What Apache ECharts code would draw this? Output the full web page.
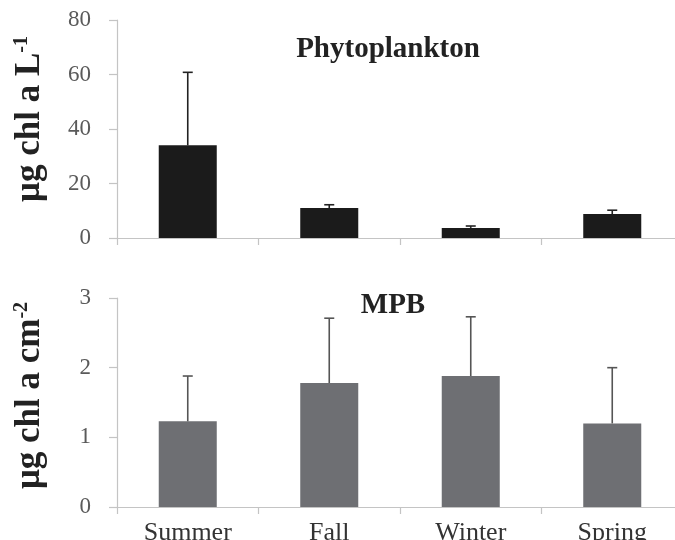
<!DOCTYPE html>
<html>
<head>
<meta charset="utf-8">
<script src="https://cdn.jsdelivr.net/npm/echarts@6/dist/echarts.min.js"></script>
<style>
  html, body { margin: 0; padding: 0; background: #fff; }
  #chart { width: 675px; height: 540px; }
</style>
</head>
<body>
<div id="chart"></div>
<script>
// Seasonal chlorophyll a: phytoplankton (water column) and MPB (sediment)
const seasons = ['Summer', 'Fall', 'Winter', 'Spring'];
const phytoMean = [34, 11, 3.7, 8.8];
const phytoSD = [26.8, 1.2, 0.7, 1.4];
const mpbMean = [1.23, 1.78, 1.88, 1.2];
const mpbSD = [0.65, 0.93, 0.85, 0.8];
const phytoTicks = [0, 20, 40, 60, 80];
const mpbTicks = [0, 1, 2, 3];

const SERIF = '"Liberation Serif", "Times New Roman", serif';

function errorBarItem(color) {
  return function (params, api) {
    const x = api.value(0);
    const m = api.value(1);
    const e = api.value(2);
    const p0 = api.coord([x, m]);
    const p1 = api.coord([x, m + e]);
    const cap = 5;
    const style = { stroke: color, lineWidth: 1.6 };
    return {
      type: 'group',
      children: [
        { type: 'line', shape: { x1: p0[0], y1: p0[1], x2: p1[0], y2: p1[1] }, style },
        { type: 'line', shape: { x1: p1[0] - cap, y1: p1[1], x2: p1[0] + cap, y2: p1[1] }, style }
      ]
    };
  };
}

function valueAxis(gridIndex, ticks, name, sup, shift) {
  return {
    type: 'value',
    gridIndex,
    min: ticks[0],
    max: ticks[ticks.length - 1],
    interval: ticks[1] - ticks[0],
    splitLine: { show: false },
    axisLine: { show: true, lineStyle: { color: '#c4c4c4', width: 1.2 } },
    axisTick: { show: true, length: 8, lineStyle: { color: '#c4c4c4', width: 1.2 } },
    axisLabel: { fontFamily: SERIF, fontSize: 23, color: '#5a5a5a', margin: 26 },
    name: '{m|' + name + '}{s|' + sup + '}',
    nameLocation: 'middle',
    nameGap: 70,
    nameTextStyle: {
      padding: [0, 0, 0, shift],
      rich: {
        m: { fontFamily: SERIF, fontSize: 35, fontWeight: 'bold', color: '#222' },
        s: { fontFamily: SERIF, fontSize: 20, fontWeight: 'bold', color: '#222', verticalAlign: 'top' }
      }
    }
  };
}

function catAxis(gridIndex, showLabels) {
  return {
    type: 'category',
    gridIndex,
    data: seasons,
    boundaryGap: true,
    axisLine: { show: true, lineStyle: { color: '#c4c4c4', width: 1.2 } },
    axisTick: { show: true, length: 7, lineStyle: { color: '#c4c4c4', width: 1.2 } },
    axisLabel: { show: showLabels, fontFamily: SERIF, fontSize: 26, color: '#333', margin: 13 }
  };
}

const chart = echarts.init(document.getElementById('chart'), null, { renderer: 'canvas' });
chart.setOption({
  backgroundColor: '#ffffff',
  animation: false,
  title: [
    { text: 'Phytoplankton', left: 383, top: 30, textAlign: 'center',
      textStyle: { fontFamily: SERIF, fontSize: 29, fontWeight: 'bold', color: '#222' } },
    { text: 'MPB', left: 388, top: 286, textAlign: 'center',
      textStyle: { fontFamily: SERIF, fontSize: 29, fontWeight: 'bold', color: '#222' } }
  ],
  grid: [
    { left: 117, right: -8, top: 20, height: 218, outerBoundsMode: 'none' },
    { left: 117, right: -8, top: 298, height: 209, outerBoundsMode: 'none' }
  ],
  xAxis: [catAxis(0, false), catAxis(1, true)],
  yAxis: [
    valueAxis(0, phytoTicks, 'μg chl a L', '-1', 20),
    valueAxis(1, mpbTicks, 'μg chl a cm', '-2', 14)
  ],
  series: [
    {
      type: 'bar', xAxisIndex: 0, yAxisIndex: 0,
      data: phytoMean, barWidth: '41%',
      itemStyle: { color: '#1b1b1b' }
    },
    {
      type: 'custom', xAxisIndex: 0, yAxisIndex: 0, z: 5,
      renderItem: errorBarItem('#222'),
      data: seasons.map((s, i) => [i, phytoMean[i], phytoSD[i]])
    },
    {
      type: 'bar', xAxisIndex: 1, yAxisIndex: 1,
      data: mpbMean, barWidth: '41%',
      itemStyle: { color: '#6e6f73' }
    },
    {
      type: 'custom', xAxisIndex: 1, yAxisIndex: 1, z: 5,
      renderItem: errorBarItem('#555'),
      data: seasons.map((s, i) => [i, mpbMean[i], mpbSD[i]])
    }
  ]
});
</script>
</body>
</html>
